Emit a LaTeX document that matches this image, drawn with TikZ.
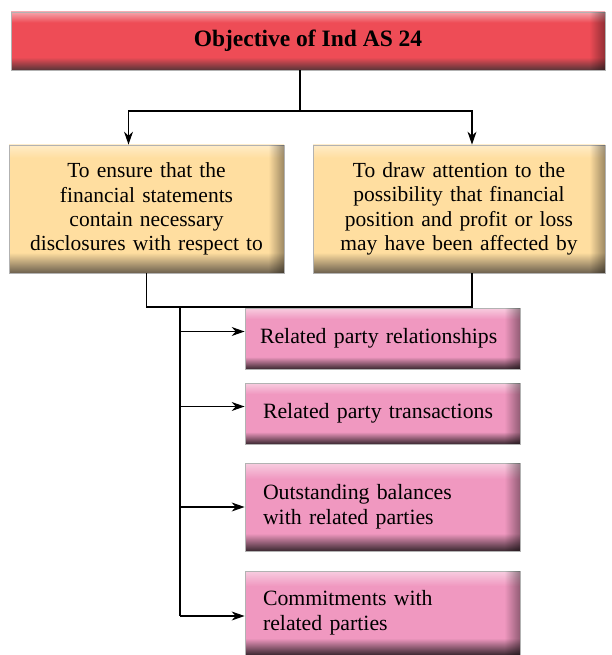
\documentclass[tikz,border=0pt]{standalone}
\usepackage{fontspec}
\setmainfont{Liberation Serif}
\usetikzlibrary{arrows.meta,fadings}
\definecolor{rlt}{RGB}{245,165,172}
\definecolor{rmid}{RGB}{238,76,86}
\definecolor{rdk}{RGB}{88,52,56}
\definecolor{ylt}{RGB}{255,236,200}
\definecolor{ymid}{RGB}{255,222,160}
\definecolor{ydk}{RGB}{108,96,78}
\definecolor{plt}{RGB}{248,205,224}
\definecolor{pmid}{RGB}{240,152,192}
\definecolor{pdk}{RGB}{58,40,48}
\pgfdeclareverticalshading{redbtn}{100bp}{color(0bp)=(rdk); color(25bp)=(rdk); color(36bp)=(rmid); color(66bp)=(rmid); color(75bp)=(rlt); color(100bp)=(rlt)}
\pgfdeclareverticalshading{ylwbtn}{100bp}{color(0bp)=(ydk); color(25bp)=(ydk); color(33bp)=(ymid); color(70bp)=(ymid); color(75bp)=(ylt); color(100bp)=(ylt)}
\pgfdeclareverticalshading{pnkbtn}{100bp}{color(0bp)=(pdk); color(25bp)=(pdk); color(35bp)=(pmid); color(66bp)=(pmid); color(75bp)=(plt); color(100bp)=(plt)}
\tikzset{
  hd/.style={shade,shading=redbtn,draw=gray!60,line width=0.8pt,minimum width=594pt,minimum height=58pt,inner sep=0pt,font=\fontsize{23.5}{26}\selectfont\bfseries},
  obj/.style={shade,shading=ylwbtn,draw=gray!60,line width=0.8pt,minimum height=128pt,text width=266pt,align=center,inner sep=0pt,font=\fontsize{21.5}{24.3}\selectfont},
  itm/.style={shade,shading=pnkbtn,draw=gray!60,line width=0.8pt,text width=245pt,inner xsep=15pt,inner ysep=0pt,align=left,font=\fontsize{21.8}{24.5}\selectfont},
  ln/.style={line width=1.1pt},
  ar/.style={line width=1.1pt,-{Stealth[length=13pt,width=9pt]}}
}
\newcommand{\rshade}[1]{\fill[black,opacity=0.4,path fading=west] ([xshift=-16pt]#1.north east) rectangle (#1.south east);}
\begin{document}
\begin{tikzpicture}[x=1pt,y=-1pt]
\useasboundingbox (0,0) rectangle (611,655);
\node[hd] (hd) at (308,41) {Objective of Ind AS 24}; \rshade{hd}
\node[obj,minimum width=275pt] (l) at (146.5,209) {To ensure that the\\financial statements\\contain necessary\\disclosures with respect to}; \rshade{l}
\node[obj,minimum width=292pt] (r) at (459,209) {To draw attention to the\\possibility that financial\\position and profit or loss\\may have been affected by}; \rshade{r}
\node[itm,minimum height=61pt] (b1) at (382.5,338.5) {Related party relationships}; \rshade{b1}
\node[itm,minimum height=61pt] (b2) at (382.5,413.5) {\hspace*{3pt}Related party transactions}; \rshade{b2}
\node[itm,minimum height=88pt] (b3) at (382.5,507) {\hspace*{3pt}Outstanding balances\\\hspace*{3pt}with related parties}; \rshade{b3}
\node[itm,minimum height=84pt] (b4) at (382.5,613) {\hspace*{3pt}Commitments with\\\hspace*{3pt}related parties}; \rshade{b4}
\coordinate (sp) at (300,111);
\coordinate (jn) at (180,307);
\draw[ln] (hd.south-|sp) -- (sp);
\draw[ar] (sp) -| ([xshift=-18pt]l.north);
\draw[ar] (sp) -| ([xshift=13pt]r.north);
\draw[ln] (l.south) |- (jn) -| ([xshift=13pt]r.south);
\draw[ln] (jn) -- ++(0,309);
\draw[ar] (jn|-b1.west) ++(0,-7) -- ([yshift=7pt]b1.west);
\draw[ar] (jn|-b2.west) ++(0,-7) -- ([yshift=7pt]b2.west);
\draw[ar] (jn|-b3.west) -- (b3.west);
\draw[ar] (jn|-b4.west) ++(0,3) -- ([yshift=-3pt]b4.west);
\end{tikzpicture}
\end{document}
